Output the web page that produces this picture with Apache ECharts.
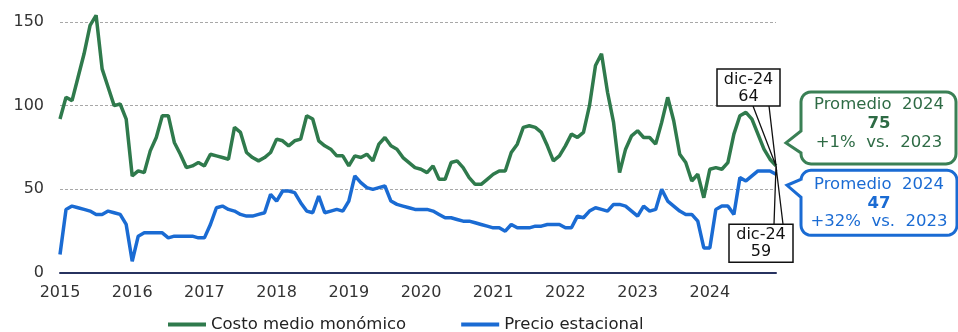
<!DOCTYPE html>
<html>
<head>
<meta charset="utf-8">
<script src="https://cdn.jsdelivr.net/npm/echarts@6/dist/echarts.min.js"></script>
<style>
html, body { margin: 0; padding: 0; background: #fff; }
#chart { width: 958px; height: 332px; }
</style>
</head>
<body>
<div id="chart"></div>
<script>
// meses ene-15 .. dic-24
var years = ['15', '16', '17', '18', '19', '20', '21', '22', '23', '24'];
var months = ['ene', 'feb', 'mar', 'abr', 'may', 'jun', 'jul', 'ago', 'sep', 'oct', 'nov', 'dic'];
var yearLabels = ['2015', '2016', '2017', '2018', '2019', '2020', '2021', '2022', '2023', '2024'];
var seriesNames = ['Costo medio monómico', 'Precio estacional'];

var costoMedio = [
	92, 105, 103, 117, 131, 148, 154, 122, 111, 100, 101, 92,
	58, 61, 60, 73, 81, 94, 94, 78, 71, 63, 64, 66,
	64, 71, 70, 69, 68, 87, 84, 72, 69, 67, 69, 72,
	80, 79, 76, 79, 80, 94, 92, 79, 76, 74, 70, 70,
	64, 70, 69, 71, 67, 77, 81, 76, 74, 69, 66, 63,
	62, 60, 64, 56, 56, 66, 67, 63, 57, 53, 53, 56,
	59, 61, 61, 72, 77, 87, 88, 87, 84, 76, 67, 70,
	76, 83, 81, 84, 100, 124, 131, 108, 90, 60, 74, 82,
	85, 81, 81, 77, 90, 105, 91, 71, 66, 55, 59, 45,
	62, 63, 62, 66, 83, 94, 96, 92, 83, 74, 68, 64
];
var precioEstacional = [
	11, 38, 40, 39, 38, 37, 35, 35, 37, 36, 35, 29,
	7, 22, 24, 24, 24, 24, 21, 22, 22, 22, 22, 21,
	21, 29, 39, 40, 38, 37, 35, 34, 34, 35, 36, 47,
	43, 49, 49, 48, 42, 37, 36, 46, 36, 37, 38, 37,
	43, 58, 54, 51, 50, 51, 52, 43, 41, 40, 39, 38,
	38, 38, 37, 35, 33, 33, 32, 31, 31, 30, 29, 28,
	27, 27, 25, 29, 27, 27, 27, 28, 28, 29, 29, 29,
	27, 27, 34, 33, 37, 39, 38, 37, 41, 41, 40, 37,
	34, 40, 37, 38, 50, 43, 40, 37, 35, 35, 31, 15,
	15, 38, 40, 40, 35, 57, 55, 58, 61, 61, 61, 59
];

// promedio 2024 y variación vs. 2023
var promedio2024 = [75, 47];
var variacion = ['+1%', '+32%'];

var categories = [];
years.forEach(function(y) {
	months.forEach(function(m) {
		categories.push(m + '-' + y);
	});
});

var GREEN = '#2f7a4c';
var BLUE = '#1a6bd3';
var FONT = 'DejaVu Sans';

var myChart = echarts.init(document.getElementById('chart'));

var option = {
	animation: false,
	grid: {
		left: 60,
		right: 182,
		top: 22,
		bottom: 59,
		containLabel: false,
		outerBoundsMode: 'none'
	},
	legend: {
		left: 163,
		top: 311,
		itemWidth: 38,
		itemHeight: 4,
		itemGap: 55,
		icon: 'rect',
		textStyle: { fontSize: 16.5, color: '#222', fontFamily: FONT },
		data: seriesNames
	},
	xAxis: {
		type: 'category',
		boundaryGap: false,
		data: categories,
		axisLine: { lineStyle: { color: '#27325f', width: 2 } },
		axisTick: { show: false },
		axisLabel: {
			interval: function(i) { return i % 12 === 0; },
			formatter: function(v, i) { return yearLabels[Math.floor(i / 12)]; },
			fontSize: 16,
			fontFamily: FONT,
			color: '#333',
			margin: 12
		},
		splitLine: { show: false }
	},
	yAxis: {
		type: 'value',
		min: 0,
		max: 150,
		interval: 50,
		axisLine: { show: false },
		axisTick: { show: false },
		axisLabel: { fontSize: 16, fontFamily: FONT, color: '#333', margin: 16 },
		splitLine: { lineStyle: { color: '#a8a8a8', width: 1, type: [3, 2] } }
	},
	series: [
		{
			name: seriesNames[0],
			type: 'line',
			data: costoMedio,
			symbol: 'none',
			clip: false,
			color: GREEN,
			lineStyle: { color: GREEN, width: 3.5 },
			z: 3
		},
		{
			name: seriesNames[1],
			type: 'line',
			data: precioEstacional,
			symbol: 'none',
			clip: false,
			color: BLUE,
			lineStyle: { color: BLUE, width: 3.5 },
			z: 2
		}
	]
};

myChart.setOption(option);

// callout con puntero a la izquierda
function calloutPoints(x, y, w, h, r, b1, b2, tx, ty) {
	var pts = [];
	function arc(cx, cy, a0, a1) {
		for (var k = 0; k <= 6; k++) {
			var a = a0 + (a1 - a0) * k / 6;
			pts.push([cx + r * Math.cos(a), cy + r * Math.sin(a)]);
		}
	}
	arc(x + w - r, y + r, -Math.PI / 2, 0);
	arc(x + w - r, y + h - r, 0, Math.PI / 2);
	arc(x + r, y + h - r, Math.PI / 2, Math.PI);
	pts.push([x, b2], [tx, ty], [x, b1]);
	arc(x + r, y + r, Math.PI, Math.PI * 1.5);
	return pts;
}

function txt(x, y, text, color, weight, size) {
	return {
		type: 'text',
		z: 101,
		style: {
			x: x, y: y, text: text,
			fill: color,
			font: (weight || 'normal') + ' ' + (size || 16.5) + 'px "' + FONT + '"',
			align: 'center', verticalAlign: 'middle',
			textAlign: 'center', textVerticalAlign: 'middle'
		}
	};
}

function labelBox(x, y, w, h, lines, wedge, tip) {
	var els = [];
	els.push({
		type: 'polyline', z: 99,
		shape: { points: [[wedge[0], wedge[2]], tip, [wedge[1], wedge[2]]] },
		style: { stroke: '#111', lineWidth: 1.3, fill: null }
	});
	els.push({
		type: 'rect', z: 100,
		shape: { x: x, y: y, width: w, height: h },
		style: { fill: '#fff', stroke: '#111', lineWidth: 1.5 }
	});
	els.push(txt(x + w / 2, y + 11, lines[0], '#111', 'normal', 16));
	els.push(txt(x + w / 2, y + 28, lines[1], '#111', 'normal', 16));
	return els;
}

var last = categories.length - 1;
var p1 = myChart.convertToPixel({ gridIndex: 0 }, [last, costoMedio[last]]);
var p2 = myChart.convertToPixel({ gridIndex: 0 }, [last, precioEstacional[last]]);

var els = [];

// caja verde
els.push({
	type: 'polygon', z: 100,
	shape: { points: calloutPoints(p1[0] + 25, p1[1] - 74, 155, 72, 10, p1[1] - 35, p1[1] - 13, p1[0] + 10, p1[1] - 23) },
	style: { fill: '#fff', stroke: '#3a8055', lineWidth: 3 }
});
els.push(txt(p1[0] + 103, p1[1] - 61, 'Promedio  2024', '#2e6b45'));
els.push(txt(p1[0] + 103, p1[1] - 42, String(promedio2024[0]), '#2e6b45', 'bold'));
els.push(txt(p1[0] + 103, p1[1] - 23, variacion[0] + '  vs.  2023', '#2e6b45'));

// caja azul
els.push({
	type: 'polygon', z: 100,
	shape: { points: calloutPoints(p2[0] + 25, p2[1] - 4, 156, 65, 10, p2[1] + 5, p2[1] + 23, p2[0] + 11, p2[1] + 11) },
	style: { fill: '#fff', stroke: BLUE, lineWidth: 3 }
});
els.push(txt(p2[0] + 103, p2[1] + 10, 'Promedio  2024', BLUE));
els.push(txt(p2[0] + 103, p2[1] + 29, String(promedio2024[1]), BLUE, 'bold'));
els.push(txt(p2[0] + 103, p2[1] + 47, variacion[1] + '  vs.  2023', BLUE));

// etiquetas dic-24
els = els.concat(labelBox(p1[0] - 59, p1[1] - 97, 63, 37,
	[categories[last], String(costoMedio[last])],
	[p1[0] - 23, p1[0] - 7, p1[1] - 60], [p1[0], p1[1]]));
els = els.concat(labelBox(p2[0] - 47, p2[1] + 50, 64, 38,
	[categories[last], String(precioEstacional[last])],
	[p2[0] - 2, p2[0] + 7, p2[1] + 50], [p2[0], p2[1] - 8]));

myChart.setOption({ graphic: { elements: els } });
</script>
</body>
</html>
